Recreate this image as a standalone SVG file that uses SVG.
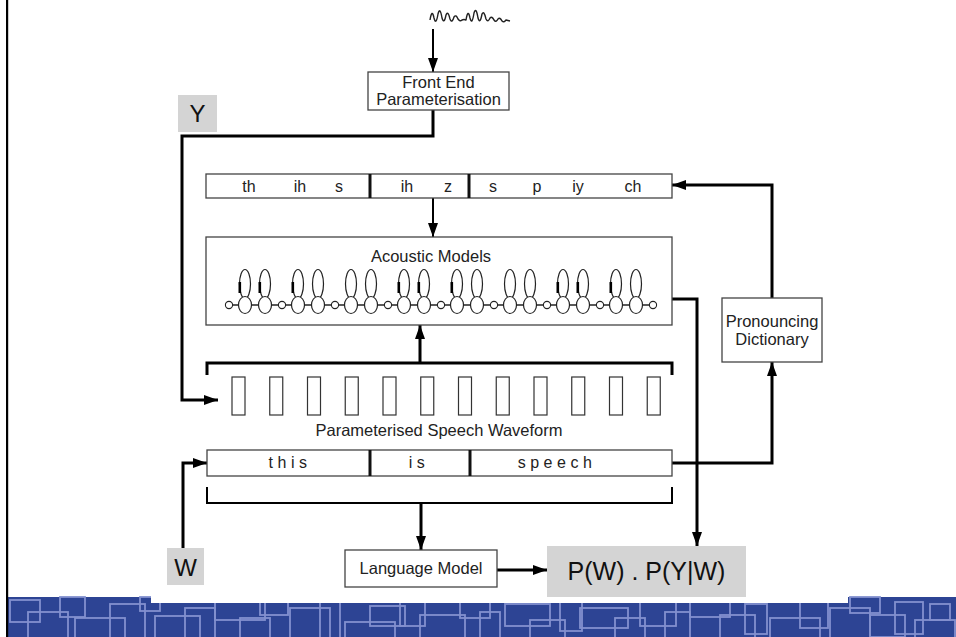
<svg xmlns="http://www.w3.org/2000/svg" width="956" height="637" viewBox="0 0 956 637">
<style>
  .box{fill:#fff;stroke:#444;stroke-width:1.3}
  .gray{fill:#d4d4d4;stroke:none}
  .t{font-family:"Liberation Sans",Arial,sans-serif;font-size:16.5px;fill:#222;text-anchor:middle}
  .ph{font-family:"Liberation Sans",Arial,sans-serif;font-size:16px;fill:#222;text-anchor:middle}
  .wd{font-family:"Liberation Sans",Arial,sans-serif;font-size:16px;fill:#222;text-anchor:middle;letter-spacing:4.5px}
  .big{font-family:"Liberation Sans",Arial,sans-serif;font-size:24px;fill:#111;text-anchor:middle}
  .con{fill:none;stroke:#000;stroke-width:3}
  .thin{fill:none;stroke:#000;stroke-width:2}
  .div{stroke:#111;stroke-width:3}
  .st{fill:#fff;stroke:#222;stroke-width:1.2}
  .loop{fill:none;stroke:#222;stroke-width:1.2}
  .frm{fill:#fff;stroke:#333;stroke-width:1.2}
  .pat{fill:none;stroke:#8391cf;stroke-width:1.8}
</style>
<defs>
  <marker id="ah" viewBox="0 0 14 10" refX="14" refY="5" markerWidth="14" markerHeight="10" markerUnits="userSpaceOnUse" orient="auto">
    <path d="M0,0 L14,5 L0,10 z" fill="#000"/>
  </marker>
  <g id="hmm">
    <ellipse class="loop" cx="16" cy="-21" rx="5.5" ry="14.5"/>
    <ellipse class="loop" cx="36" cy="-21" rx="5.5" ry="14.5"/>
    <ellipse class="st" cx="16" cy="0" rx="6.5" ry="8.5"/>
    <ellipse class="st" cx="36" cy="0" rx="6.5" ry="8.5"/>
  </g>
</defs>
<rect width="956" height="637" fill="#fff"/>

<!-- bottom banner -->
<g id="banner">
  <rect x="8" y="597" width="948" height="40" fill="#2d4494"/>
  <g class="pat">
    <rect x="10" y="600" width="30" height="22"/><rect x="28" y="612" width="40" height="30"/>
    <rect x="60" y="597" width="25" height="20"/><rect x="75" y="618" width="50" height="25"/>
    <rect x="110" y="604" width="35" height="35"/><rect x="140" y="597" width="20" height="14"/>
    <rect x="155" y="616" width="45" height="22"/><rect x="185" y="608" width="30" height="30"/>
    <rect x="215" y="602" width="50" height="18"/><rect x="240" y="618" width="30" height="25"/>
    <rect x="260" y="599" width="28" height="16"/><rect x="290" y="608" width="40" height="30"/>
    <rect x="320" y="602" width="20" height="38"/><rect x="345" y="622" width="50" height="20"/>
    <rect x="370" y="606" width="35" height="20"/><rect x="400" y="599" width="25" height="27"/>
    <rect x="420" y="615" width="45" height="24"/><rect x="460" y="602" width="30" height="16"/>
    <rect x="480" y="612" width="20" height="30"/><rect x="505" y="604" width="45" height="22"/>
    <rect x="530" y="620" width="35" height="20"/><rect x="560" y="599" width="22" height="32"/>
    <rect x="580" y="608" width="48" height="20"/><rect x="615" y="618" width="30" height="25"/>
    <rect x="640" y="602" width="36" height="24"/><rect x="665" y="612" width="25" height="30"/>
    <rect x="690" y="599" width="40" height="18"/><rect x="720" y="615" width="35" height="24"/>
    <rect x="745" y="604" width="22" height="30"/><rect x="770" y="618" width="50" height="20"/>
    <rect x="800" y="600" width="28" height="28"/><rect x="830" y="608" width="40" height="30"/>
    <rect x="850" y="597" width="30" height="16"/><rect x="870" y="615" width="35" height="22"/>
    <rect x="895" y="602" width="28" height="32"/><rect x="915" y="620" width="40" height="20"/>
    <rect x="930" y="604" width="20" height="16"/>
  </g>
  <rect x="151" y="596" width="697" height="7" fill="#fff"/>
  <rect x="6" y="0" width="2.2" height="637" fill="#000"/>
</g>

<!-- connectors -->
<g id="connectors">
  <path class="thin" d="M433,29 V72" marker-end="url(#ah)"/>
  <path class="con" d="M433,110 V136 H182 V400 H218" marker-end="url(#ah)"/>
  <path class="thin" d="M433,198 V237" marker-end="url(#ah)"/>
  <path class="con" d="M207,375 V363 H672 V375 M420,363 V325" marker-end="url(#ah)"/>
  <path class="con" d="M672,299 H697 V546" marker-end="url(#ah)"/>
  <path class="con" d="M183,548 V463 H207" marker-end="url(#ah)"/>
  <path class="con" d="M672,463 H772 V362" marker-end="url(#ah)"/>
  <path class="con" d="M772,298 V185 H672" marker-end="url(#ah)"/>
  <path class="thin" d="M207,487 V503 H672 V487"/>
  <path class="con" d="M421,503 V550" marker-end="url(#ah)"/>
  <path class="con" d="M497,570 H547" marker-end="url(#ah)"/>
</g>

<g id="waveform">
  <path fill="none" stroke="#222" stroke-width="1.4" stroke-linejoin="round" d="M430,20 Q432,8 434,18 Q436,26 438,14 Q440,6 442,18 Q444,25 446,15 Q448,10 450,19 Q452,24 454,17 Q456,14 458,19 Q460,22 462,20 Q464,19 466,20 Q468,8 470,18 Q472,26 474,13 Q476,6 478,18 Q480,25 482,14 Q484,10 486,19 Q488,23 490,18 Q492,16 494,20 Q496,23 498,19 Q500,17 502,21 Q504,23 506,20 L510,21"/>
</g>

<g id="front-end">
  <rect class="box" x="368" y="72" width="141" height="38"/>
  <text class="t" x="438.5" y="88">Front End</text>
  <text class="t" x="438.5" y="105">Parameterisation</text>
</g>

<g id="y-label">
  <rect class="gray" x="178" y="95" width="39" height="37"/>
  <text class="big" x="197.5" y="122">Y</text>
</g>

<g id="phonemes">
  <rect class="box" x="206" y="174" width="466" height="24"/>
  <line class="div" x1="370" y1="174" x2="370" y2="198"/>
  <line class="div" x1="469" y1="174" x2="469" y2="198"/>
  <text class="ph" x="249" y="192">th</text>
  <text class="ph" x="300" y="192">ih</text>
  <text class="ph" x="339" y="192">s</text>
  <text class="ph" x="407" y="192">ih</text>
  <text class="ph" x="448" y="192">z</text>
  <text class="ph" x="493" y="192">s</text>
  <text class="ph" x="537" y="192">p</text>
  <text class="ph" x="578" y="192">iy</text>
  <text class="ph" x="633" y="192">ch</text>
</g>

<g id="acoustic-models">
  <rect class="box" x="206" y="237" width="466" height="88"/>
  <text class="t" x="431" y="262">Acoustic Models</text>
  <line x1="229" y1="305" x2="653" y2="305" stroke="#222" stroke-width="1.5"/>
  <use href="#hmm" x="229" y="305"/>
  <use href="#hmm" x="282" y="305"/>
  <use href="#hmm" x="335" y="305"/>
  <use href="#hmm" x="388" y="305"/>
  <use href="#hmm" x="441" y="305"/>
  <use href="#hmm" x="494" y="305"/>
  <use href="#hmm" x="547" y="305"/>
  <use href="#hmm" x="600" y="305"/>
  <g fill="#fff" stroke="#222" stroke-width="1.1">
    <circle cx="229" cy="305" r="3.6"/><circle cx="282" cy="305" r="3.6"/><circle cx="335" cy="305" r="3.6"/>
    <circle cx="388" cy="305" r="3.6"/><circle cx="441" cy="305" r="3.6"/><circle cx="494" cy="305" r="3.6"/>
    <circle cx="547" cy="305" r="3.6"/><circle cx="600" cy="305" r="3.6"/><circle cx="653" cy="305" r="3.6"/>
  </g>
  <g fill="#000">
    <rect x="238.5" y="282" width="2.6" height="11"/><rect x="258.5" y="282" width="2.6" height="11"/>
    <rect x="291.5" y="282" width="2.6" height="11"/>
    <rect x="397.5" y="282" width="2.6" height="11"/><rect x="417.5" y="282" width="2.6" height="11"/>
    <rect x="450.5" y="282" width="2.6" height="11"/>
    <rect x="556.5" y="282" width="2.6" height="11"/><rect x="576.5" y="282" width="2.6" height="11"/>
    <rect x="609.5" y="282" width="2.6" height="11"/>
  </g>
</g>

<g id="frames">
  <rect class="frm" x="232" y="377" width="13" height="38"/>
  <rect class="frm" x="269.75" y="377" width="13" height="38"/>
  <rect class="frm" x="307.5" y="377" width="13" height="38"/>
  <rect class="frm" x="345.25" y="377" width="13" height="38"/>
  <rect class="frm" x="383" y="377" width="13" height="38"/>
  <rect class="frm" x="420.75" y="377" width="13" height="38"/>
  <rect class="frm" x="458.5" y="377" width="13" height="38"/>
  <rect class="frm" x="496.25" y="377" width="13" height="38"/>
  <rect class="frm" x="534" y="377" width="13" height="38"/>
  <rect class="frm" x="571.75" y="377" width="13" height="38"/>
  <rect class="frm" x="609.5" y="377" width="13" height="38"/>
  <rect class="frm" x="647.25" y="377" width="13" height="38"/>
  <text class="t" x="439" y="436">Parameterised Speech Waveform</text>
</g>

<g id="words">
  <rect class="box" x="207" y="450" width="465" height="26"/>
  <line class="div" x1="370" y1="450" x2="370" y2="476"/>
  <line class="div" x1="470" y1="450" x2="470" y2="476"/>
  <text class="wd" x="290" y="468">this</text>
  <text class="wd" x="419" y="468">is</text>
  <text class="wd" x="557" y="468">speech</text>
</g>

<g id="pron-dict">
  <rect class="box" x="722" y="298" width="100" height="64"/>
  <text class="t" x="772" y="327">Pronouncing</text>
  <text class="t" x="772" y="345">Dictionary</text>
</g>

<g id="w-label">
  <rect class="gray" x="167" y="548" width="37" height="37"/>
  <text class="big" x="185.5" y="576">W</text>
</g>

<g id="language-model">
  <rect class="box" x="345" y="550" width="152" height="37"/>
  <text class="t" x="421" y="574">Language Model</text>
</g>

<g id="result">
  <rect class="gray" x="547" y="546" width="199" height="51"/>
  <text class="big" x="646.5" y="580" style="font-size:25px">P(W) . P(Y|W)</text>
</g>
</svg>
